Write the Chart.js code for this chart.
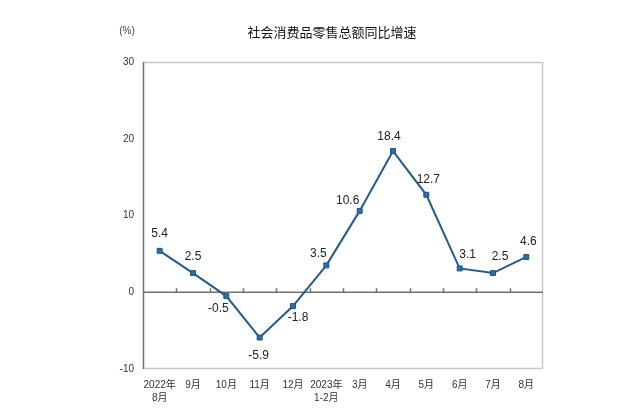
<!DOCTYPE html>
<html>
<head>
<meta charset="utf-8">
<script src="https://cdn.jsdelivr.net/npm/chart.js@4"></script>
<style>
  html, body { margin: 0; padding: 0; background: #fff; }
  #wrap { width: 640px; height: 415px; }
</style>
</head>
<body>
<div id="wrap"><canvas id="retailChart" width="640" height="415"></canvas></div>
<script>
const months = [["2022年", "8月"], "9月", "10月", "11月", "12月", ["2023年", "1-2月"], "3月", "4月", "5月", "6月", "7月", "8月"];
const growth = [5.4, 2.5, -0.5, -5.9, -1.8, 3.5, 10.6, 18.4, 12.7, 3.1, 2.5, 4.6];
const yTicks = [-10, 0, 10, 20, 30];

// where each value label sits relative to its marker (dx, dy of text centre)
const labelShift = [[0, -17], [0, -16], [-8, 13], [-1, 18], [5, 12], [-8, -12],
                    [-12, -10], [-4, -14], [2, -15], [8, -14], [7, -16], [2, -15]];

const cnFont = '"Liberation Sans", "Noto Sans CJK SC", sans-serif';

// frame, zero line, title and value labels
const decor = {
  id: "decor",
  beforeDatasetsDraw(chart) {
    const { ctx, chartArea: a, scales } = chart;
    const y0 = scales.y.getPixelForValue(0);
    ctx.save();
    ctx.strokeStyle = "#c8c8c8";
    ctx.lineWidth = 1.5;
    ctx.beginPath();
    ctx.moveTo(a.left, a.top + 0.5);
    ctx.lineTo(a.right - 0.5, a.top + 0.5);
    ctx.lineTo(a.right - 0.5, a.bottom - 0.5);
    ctx.lineTo(a.left, a.bottom - 0.5);
    ctx.stroke();
    ctx.strokeStyle = "#707070";
    ctx.lineWidth = 1.5;
    ctx.beginPath();
    ctx.moveTo(a.left + 0.5, a.top);
    ctx.lineTo(a.left + 0.5, a.bottom);
    ctx.moveTo(a.left, y0);
    ctx.lineTo(a.right, y0);
    const step = (a.right - a.left) / growth.length;
    for (let k = 1; k < growth.length; k++) {
      const x = Math.round(a.left + step * k) + 0.5;
      ctx.moveTo(x, y0);
      ctx.lineTo(x, y0 - 4);
    }
    ctx.stroke();
    ctx.restore();
  },
  afterDatasetsDraw(chart) {
    const { ctx } = chart;
    const meta = chart.getDatasetMeta(0);
    ctx.save();
    ctx.fillStyle = "#222";
    ctx.font = '12px "Liberation Sans", Arial, sans-serif';
    ctx.textAlign = "center";
    ctx.textBaseline = "middle";
    meta.data.forEach((pt, i) => {
      const [dx, dy] = labelShift[i];
      ctx.fillText(growth[i].toFixed(1), pt.x + dx, pt.y + dy);
    });
    ctx.font = '13px ' + cnFont;
    ctx.fillStyle = "#111";
    ctx.fillText("社会消费品零售总额同比增速", 332, 33);
    ctx.font = '10px ' + cnFont;
    ctx.fillStyle = "#444";
    ctx.fillText("(%)", 127, 31);
    ctx.restore();
  }
};

new Chart("retailChart", {
  type: "line",
  data: {
    labels: months,
    datasets: [{
      data: growth,
      borderColor: "#245b8c",
      borderWidth: 2,
      backgroundColor: "#2e6ea6",
      pointStyle: "rect",
      pointRadius: 3.5,
      pointBorderWidth: 1,
      pointBorderColor: "#1f5585",
      tension: 0
    }]
  },
  options: {
    responsive: false,
    animation: false,
    layout: { padding: { top: 62, right: 97, left: 0, bottom: 0 } },
    plugins: { legend: { display: false }, tooltip: { enabled: false } },
    scales: {
      x: {
        offset: true,
        grid: { display: false, drawTicks: false },
        border: { display: false },
        ticks: {
          color: "#333",
          font: { size: 10, family: cnFont, lineHeight: 1.35 },
          padding: 9,
          maxRotation: 0,
          autoSkip: false
        },
        afterFit(scale) { scale.height = 46; }
      },
      y: {
        min: -10,
        max: 30,
        afterBuildTicks(scale) { scale.ticks = yTicks.map(v => ({ value: v })); },
        grid: { display: false, drawTicks: false },
        border: { display: false },
        ticks: {
          color: "#333",
          font: { size: 10, family: cnFont },
          padding: 9
        },
        afterFit(scale) { scale.width = 143; }
      }
    }
  },
  plugins: [decor]
});
</script>
</body>
</html>
